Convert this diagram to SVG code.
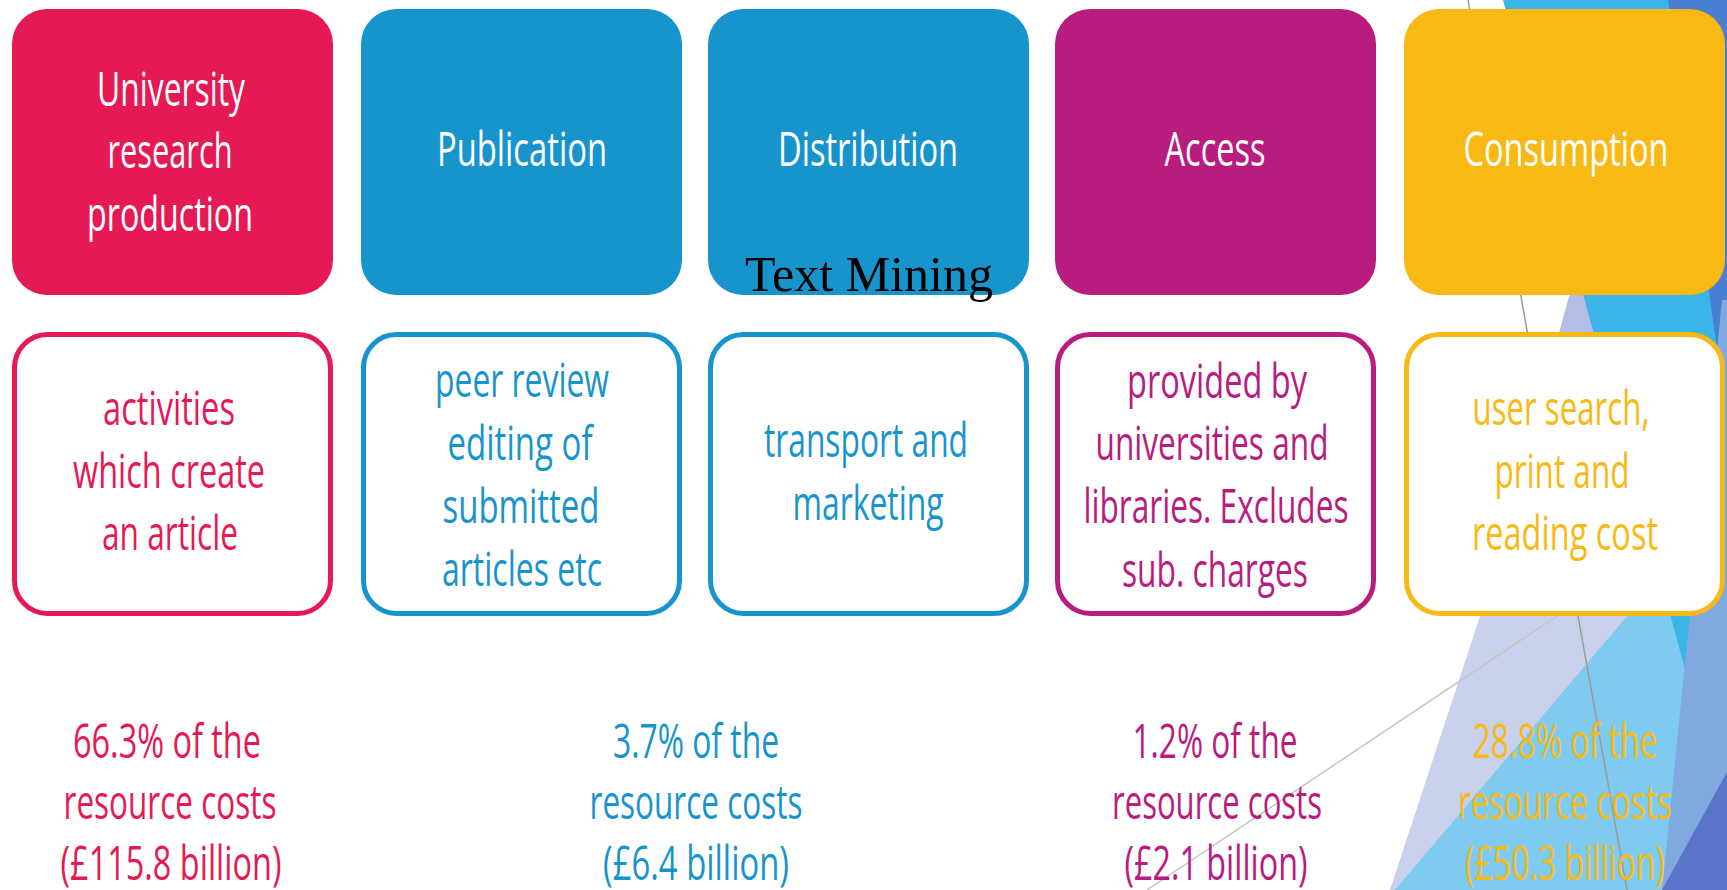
<svg xmlns="http://www.w3.org/2000/svg" width="1727" height="890" viewBox="0 0 1727 890">
<style>
.t{font-family:"Open Sans","Liberation Sans",sans-serif;font-size:47px;text-anchor:middle}
.h{font-size:48px;fill:#ffffff}
.cr{fill:#E51A55}.cb{fill:#1894CD}.cm{fill:#B81C7E}.cy{fill:#F9B915}
.fr{fill:#E51A55}.fb{fill:#1894CD}.fm{fill:#B81C7E}.fy{fill:#F9B915}
.o{fill:#ffffff;stroke-width:5}
.sr{stroke:#E51A55}.sb{stroke:#1894CD}.sm{stroke:#B81C7E}.sy{stroke:#F9B915}
.deco{stroke-width:1.5;fill:none}
</style>
<rect width="1727" height="890" fill="#ffffff"/>
<g id="background">
<polygon points="1650,0 1727,0 1727,615 1482,615" fill="#B4BDE6"/>
<polygon points="1482,610 1727,610 1727,890 1390,890" fill="#C9D0EC"/>
<polygon points="1395,890 1700,530 1727,530 1727,890" fill="#7ECBEF"/>
<polygon points="1503,0 1727,0 1727,620 1688,680" fill="#3BB4E8"/>
<polygon points="1668,0 1727,0 1727,420" fill="#4A7ED0"/>
<polygon points="1722,300 1727,300 1727,890 1662,890" fill="#80A9DF"/>
<polygon points="1662,890 1727,772 1727,890" fill="#5A74C9"/>
</g>
<g id="background-lines">
<line class="deco" x1="1468" y1="0" x2="1627" y2="890" stroke="#9C9C9C"/>
<line class="deco" x1="1575" y1="604" x2="1147" y2="890" stroke="#C4C4C4"/>
</g>
<g id="connectors"></g>

<g id="node-research">
<rect class="fr" x="12" y="9" width="321" height="286" rx="35"/>
<text class="t h" x="171" y="106" textLength="148" lengthAdjust="spacingAndGlyphs">University</text>
<text class="t h" x="170" y="168" textLength="125" lengthAdjust="spacingAndGlyphs">research</text>
<text class="t h" x="170" y="231" textLength="166" lengthAdjust="spacingAndGlyphs">production</text>
</g>
<g id="node-publication">
<rect class="fb" x="361" y="9" width="321" height="286" rx="35"/>
<text class="t h" x="522" y="166" textLength="170" lengthAdjust="spacingAndGlyphs">Publication</text>
</g>
<g id="node-distribution">
<rect class="fb" x="708" y="9" width="321" height="286" rx="35"/>
<text class="t h" x="868" y="166" textLength="180" lengthAdjust="spacingAndGlyphs">Distribution</text>
</g>
<g id="node-access">
<rect class="fm" x="1055" y="9" width="321" height="286" rx="35"/>
<text class="t h" x="1215" y="166" textLength="101" lengthAdjust="spacingAndGlyphs">Access</text>
</g>
<g id="node-consumption">
<rect class="fy" x="1404" y="9" width="321" height="286" rx="35"/>
<text class="t h" x="1566" y="166" textLength="205" lengthAdjust="spacingAndGlyphs">Consumption</text>
</g>

<g id="node-research-desc">
<rect class="o sr" x="14.5" y="334.5" width="316" height="279" rx="33"/>
<text class="t cr" x="169" y="425" textLength="132" lengthAdjust="spacingAndGlyphs">activities</text>
<text class="t cr" x="169" y="488" textLength="192" lengthAdjust="spacingAndGlyphs">which create</text>
<text class="t cr" x="170" y="550" textLength="136" lengthAdjust="spacingAndGlyphs">an article</text>
</g>
<g id="node-publication-desc">
<rect class="o sb" x="363.5" y="334.5" width="316" height="279" rx="33"/>
<text class="t cb" x="522" y="397" textLength="174" lengthAdjust="spacingAndGlyphs">peer review</text>
<text class="t cb" x="520" y="460" textLength="145" lengthAdjust="spacingAndGlyphs">editing of</text>
<text class="t cb" x="521" y="523" textLength="157" lengthAdjust="spacingAndGlyphs">submitted</text>
<text class="t cb" x="522" y="586" textLength="160" lengthAdjust="spacingAndGlyphs">articles etc</text>
</g>
<g id="node-distribution-desc">
<rect class="o sb" x="710.5" y="334.5" width="316" height="279" rx="33"/>
<text class="t cb" x="866" y="457" textLength="204" lengthAdjust="spacingAndGlyphs">transport and</text>
<text class="t cb" x="868" y="520" textLength="151" lengthAdjust="spacingAndGlyphs">marketing</text>
</g>
<g id="node-access-desc">
<rect class="o sm" x="1057.5" y="334.5" width="316" height="279" rx="33"/>
<text class="t cm" x="1217" y="398" textLength="180" lengthAdjust="spacingAndGlyphs">provided by</text>
<text class="t cm" x="1212" y="460" textLength="233" lengthAdjust="spacingAndGlyphs">universities and</text>
<text class="t cm" x="1216" y="523" textLength="265" lengthAdjust="spacingAndGlyphs">libraries. Excludes</text>
<text class="t cm" x="1215" y="587" textLength="186" lengthAdjust="spacingAndGlyphs">sub. charges</text>
</g>
<g id="node-consumption-desc">
<rect class="o sy" x="1406.5" y="334.5" width="316" height="279" rx="33"/>
<text class="t cy" x="1561" y="425" textLength="177" lengthAdjust="spacingAndGlyphs">user search,</text>
<text class="t cy" x="1562" y="488" textLength="135" lengthAdjust="spacingAndGlyphs">print and</text>
<text class="t cy" x="1565" y="550" textLength="186" lengthAdjust="spacingAndGlyphs">reading cost</text>
</g>

<g id="cost-research">
<text class="t cr" x="167" y="758" textLength="188" lengthAdjust="spacingAndGlyphs">66.3% of the</text>
<text class="t cr" x="170" y="819" textLength="213" lengthAdjust="spacingAndGlyphs">resource costs</text>
<text class="t cr" x="171" y="880" textLength="221" lengthAdjust="spacingAndGlyphs">(£115.8 billion)</text>
</g>
<g id="cost-publication-distribution">
<text class="t cb" x="696" y="758" textLength="166" lengthAdjust="spacingAndGlyphs">3.7% of the</text>
<text class="t cb" x="696" y="819" textLength="213" lengthAdjust="spacingAndGlyphs">resource costs</text>
<text class="t cb" x="696" y="880" textLength="186" lengthAdjust="spacingAndGlyphs">(£6.4 billion)</text>
</g>
<g id="cost-access">
<text class="t cm" x="1215" y="758" textLength="165" lengthAdjust="spacingAndGlyphs">1.2% of the</text>
<text class="t cm" x="1217" y="819" textLength="210" lengthAdjust="spacingAndGlyphs">resource costs</text>
<text class="t cm" x="1216" y="880" textLength="183" lengthAdjust="spacingAndGlyphs">(£2.1 billion)</text>
</g>
<g id="cost-consumption">
<text class="t cy" x="1565" y="758" textLength="185" lengthAdjust="spacingAndGlyphs">28.8% of the</text>
<text class="t cy" x="1565" y="819" textLength="214" lengthAdjust="spacingAndGlyphs">resource costs</text>
<text class="t cy" x="1565" y="880" textLength="200" lengthAdjust="spacingAndGlyphs">(£50.3 billion)</text>
</g>

<g id="title">
<text x="745" y="291" font-family="'Liberation Serif',serif" font-size="50" fill="#000000">Text Mining</text>
</g>
</svg>
